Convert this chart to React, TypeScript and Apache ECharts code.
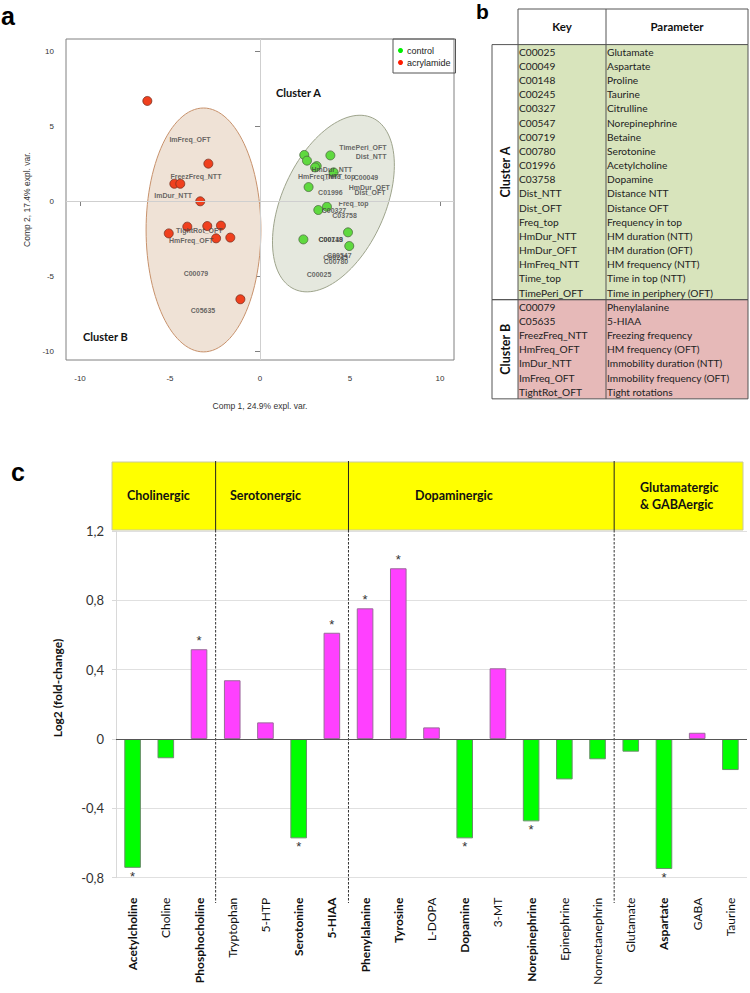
import React, { useEffect, useRef } from 'react';
import * as echarts from 'echarts';

// ---------- Panel a : PCA biplot ----------
const controlX = [2.46, 2.61, 3.91, 3.15, 3.06, 4.09, 2.70, 3.72, 3.24, 4.89, 2.41, 4.96];
const controlY = [3.07, 2.69, 3.04, 2.33, 2.24, 1.91, 0.93, -0.38, -0.60, -2.09, -2.56, -3.00];
const acrylX = [-6.26, -2.87, -4.76, -4.43, -3.32, -4.04, -2.93, -2.17, -5.07, -2.44, -1.65, -1.09];
const acrylY = [6.67, 2.49, 1.15, 1.15, -0.02, -1.71, -1.67, -1.64, -2.16, -2.49, -2.44, -6.55];

const loadingNames = [
  'ImFreq_OFT', 'FreezFreq_NTT', 'ImDur_NTT', 'TightRot_OFT', 'HmFreq_OFT', 'C00079', 'C05635',
  'TimePeri_OFT', 'Dist_NTT', 'HmDur_NTT', 'HmFreq_NTT', 'Time_top', 'C00049', 'HmDur_OFT', 'Dist_OFT',
  'C01996', 'Freq_top', 'C00327', 'C03758', 'C00148', 'C00719', 'C00547', 'C00245', 'C00780', 'C00025',
];
const loadingX = [
  -3.89, -3.56, -4.83, -3.37, -3.83, -3.56, -3.17,
  5.72, 6.17, 4.0, 3.33, 4.44, 5.89, 6.07, 6.11,
  3.91, 5.2, 4.11, 4.7, 3.93, 3.93, 4.41, 4.2, 4.22, 3.28,
];
const loadingY = [
  4.11, 1.62, 0.36, -1.96, -2.64, -4.82, -7.33,
  3.58, 2.96, 2.07, 1.62, 1.62, 1.56, 0.89, 0.56,
  0.56, -0.16, -0.64, -0.98, -2.56, -2.56, -3.62, -3.76, -4.04, -4.87,
];

// ellipses: [centerX, centerY, axis1X, axis1Y, axis2X, axis2Y] in data units
const ellipseParams = [
  [-3.14, -1.93, 0, 8.13, 3.19, 0],
  [4.08, -0.17, 2.17, 5.71, 2.6, -1.43],
];
const ellipseFill = ['#EFE2D6', '#E5E8DE'];
const ellipseStroke = ['#C8926C', '#9EA48C'];

const axisTicksA = [-10, -5, 0, 5, 10];

// ---------- Panel b : table ----------
const clusterAKeys = ['C00025', 'C00049', 'C00148', 'C00245', 'C00327', 'C00547', 'C00719', 'C00780', 'C01996', 'C03758',
  'Dist_NTT', 'Dist_OFT', 'Freq_top', 'HmDur_NTT', 'HmDur_OFT', 'HmFreq_NTT', 'Time_top', 'TimePeri_OFT'];
const clusterAParams = ['Glutamate', 'Aspartate', 'Proline', 'Taurine', 'Citrulline', 'Norepinephrine', 'Betaine', 'Serotonine',
  'Acetylcholine', 'Dopamine', 'Distance NTT', 'Distance OFT', 'Frequency in top', 'HM duration (NTT)', 'HM duration (OFT)',
  'HM frequency (NTT)', 'Time in top (NTT)', 'Time in periphery (OFT)'];
const clusterBKeys = ['C00079', 'C05635', 'FreezFreq_NTT', 'HmFreq_OFT', 'ImDur_NTT', 'ImFreq_OFT', 'TightRot_OFT'];
const clusterBParams = ['Phenylalanine', '5-HIAA', 'Freezing frequency', 'HM frequency (OFT)', 'Immobility duration (NTT)',
  'Immobility frequency (OFT)', 'Tight rotations'];

// ---------- Panel c : bar chart ----------
const categories = ['Acetylcholine', 'Choline', 'Phosphocholine', 'Tryptophan', '5-HTP', 'Serotonine', '5-HIAA',
  'Phenylalanine', 'Tyrosine', 'L-DOPA', 'Dopamine', '3-MT', 'Norepinephrine', 'Epinephrine', 'Normetanephrin',
  'Glutamate', 'Aspartate', 'GABA', 'Taurine'];
const foldChange = [-0.743, -0.111, 0.518, 0.339, 0.096, -0.573, 0.613, 0.754, 0.985, 0.067, -0.573, 0.408,
  -0.475, -0.233, -0.117, -0.073, -0.75, 0.036, -0.179];
const significant = [true, false, true, false, false, true, true, true, true, false, true, false, true, false, false,
  false, true, false, false];
const groupNames = ['Cholinergic', 'Serotonergic', 'Dopaminergic', 'Glutamatergic\n& GABAergic'];
const groupStart = [0, 3, 7, 15];

const FA = 'Liberation Sans, Arial, sans-serif';
const FC = 'Lato, sans-serif';

function buildOption(): any {
  return {
    animation: false,
    backgroundColor: '#ffffff',
    legend: {
      orient: 'vertical',
      left: 393,
      top: 39,
      padding: [7, 5, 6, 5],
      itemGap: 3,
      itemWidth: 5,
      itemHeight: 5,
      borderColor: '#555',
      borderWidth: 1,
      borderRadius: 0,
      icon: 'circle',
      textStyle: { fontSize: 9, fontFamily: FA, color: '#222', padding: [0, 0, 0, -1] },
      data: [
        { name: 'control', itemStyle: { color: '#00EE00', borderWidth: 0 } },
        { name: 'acrylamide', itemStyle: { color: '#FF1A00', borderWidth: 0 } },
      ],
    },
    grid: [
      { left: 66, top: 39, width: 388, height: 321, show: true, borderColor: '#808080', borderWidth: 1, backgroundColor: 'transparent', containLabel: false, outerBoundsMode: 'none' },
      { left: 116, top: 531, width: 631, height: 346.7, containLabel: false, outerBoundsMode: 'none' },
    ],
    xAxis: [
      {
        type: 'value', gridIndex: 0, min: -10.78, max: 10.78,
        name: 'Comp 1, 24.9% expl. var.', nameLocation: 'middle', nameGap: 41,
        nameTextStyle: { fontSize: 8.5, fontFamily: FA, color: '#333' },
        axisLine: { show: false },
        splitLine: { show: false },
        axisTick: { show: true, inside: false, length: 5, customValues: axisTicksA, lineStyle: { color: '#808080' } },
        axisLabel: { customValues: axisTicksA, fontSize: 8, fontFamily: FA, color: '#333', margin: 14 },
      },
      {
        type: 'category', gridIndex: 1,
        data: categories.map((c, i) => ({ value: c, textStyle: { fontWeight: significant[i] ? 'bold' : 'normal' } })),
        axisLine: { show: false, onZero: false },
        axisTick: { show: false },
        splitLine: { show: false },
        axisLabel: { rotate: 90, margin: 20, fontSize: 12, fontFamily: FC, color: '#111', interval: 0 },
      },
    ],
    yAxis: [
      {
        type: 'value', gridIndex: 0, min: -10.6, max: 10.8,
        name: 'Comp 2, 17.4% expl. var.', nameLocation: 'middle', nameGap: 31,
        nameTextStyle: { fontSize: 8.5, fontFamily: FA, color: '#333' },
        axisLine: { show: false },
        splitLine: { show: false },
        axisTick: { show: true, inside: false, length: 5, customValues: axisTicksA, lineStyle: { color: '#808080' } },
        axisLabel: { customValues: axisTicksA, fontSize: 8, fontFamily: FA, color: '#333', margin: 12 },
      },
      {
        type: 'value', gridIndex: 1, min: -0.8, max: 1.2, interval: 0.4,
        axisLine: { show: true, lineStyle: { color: '#d9d9d9' } },
        axisTick: { show: true, length: 4, lineStyle: { color: '#d9d9d9' } },
        splitLine: { show: true, lineStyle: { color: '#e0e0e0', width: 1 } },
        axisLabel: {
          fontSize: 13, fontFamily: FC, color: '#333', margin: 12,
          formatter: (v: number) => String(Math.round(v * 10) / 10).replace('.', ','),
        },
      },
    ],
    series: [
      {
        type: 'custom', name: 'ellipses', xAxisIndex: 0, yAxisIndex: 0, z: 1, clip: true, silent: true,
        data: ellipseParams,
        renderItem: (params: any, api: any) => {
          const cx = api.value(0), cy = api.value(1), ux = api.value(2), uy = api.value(3), vx = api.value(4), vy = api.value(5);
          const pts: number[][] = [];
          const n = 120;
          for (let k = 0; k <= n; k++) {
            const t = (k / n) * Math.PI * 2;
            pts.push(api.coord([cx + ux * Math.cos(t) + vx * Math.sin(t), cy + uy * Math.cos(t) + vy * Math.sin(t)]));
          }
          return {
            type: 'polygon',
            shape: { points: pts },
            style: { fill: ellipseFill[params.dataIndex], stroke: ellipseStroke[params.dataIndex], lineWidth: 1 },
          };
        },
      },
      {
        type: 'scatter', name: 'zerolines', xAxisIndex: 0, yAxisIndex: 0, z: 2, data: [], silent: true,
        markLine: {
          silent: true, symbol: 'none', label: { show: false }, animation: false,
          lineStyle: { color: '#cfcfcf', type: 'solid', width: 1 },
          data: [{ xAxis: 0 }, { yAxis: 0 }],
        },
      },
      {
        type: 'scatter', name: 'control', xAxisIndex: 0, yAxisIndex: 0, z: 3, symbolSize: 9,
        itemStyle: { color: '#5FD93F', borderColor: '#4d6b40', borderWidth: 0.8, opacity: 1 },
        data: controlX.map((x, i) => [x, controlY[i]]),
      },
      {
        type: 'scatter', name: 'acrylamide', xAxisIndex: 0, yAxisIndex: 0, z: 3, symbolSize: 9,
        itemStyle: { color: '#F0401E', borderColor: '#7a3020', borderWidth: 0.8, opacity: 1 },
        data: acrylX.map((x, i) => [x, acrylY[i]]),
      },
      {
        type: 'scatter', name: 'loadings', xAxisIndex: 0, yAxisIndex: 0, z: 4, symbolSize: 0, silent: true,
        data: loadingNames.map((n, i) => ({ name: n, value: [loadingX[i], loadingY[i]] })),
        label: {
          show: true, position: 'inside', formatter: (p: any) => p.name,
          fontSize: 7, fontWeight: 'bold', fontFamily: FA, color: '#444',
        },
      },
      {
        type: 'bar', name: 'foldchange', xAxisIndex: 1, yAxisIndex: 1, barWidth: '50%', z: 3,
        data: foldChange.map((v, i) => ({
          value: v,
          itemStyle: {
            color: v >= 0 ? '#FF40FF' : '#00FF00',
            borderColor: v >= 0 ? '#9a6a9a' : '#6a8f6a',
            borderWidth: 1,
          },
          label: {
            show: significant[i], position: v >= 0 ? 'top' : 'bottom', formatter: '*', distance: 2,
            fontSize: 13, fontFamily: FA, color: '#333',
          },
        })),
        markLine: {
          silent: true, symbol: 'none', label: { show: false }, animation: false,
          lineStyle: { color: '#555', type: 'solid', width: 1 },
          data: [{ yAxis: 0 }],
        },
      },
    ],
  };
}

function buildGraphic(boundaries: number[]): any[] {
  const g: any[] = [];
  // panel letters
  g.push({ type: 'text', x: 1, y: 3, style: { text: 'a', fontSize: 25, fontWeight: 'bold', fontFamily: FA, fill: '#000' } });
  g.push({ type: 'text', x: 476, y: 1, style: { text: 'b', fontSize: 21, fontWeight: 'bold', fontFamily: FA, fill: '#000' } });
  g.push({ type: 'text', x: 11, y: 459, style: { text: 'c', fontSize: 25, fontWeight: 'bold', fontFamily: FA, fill: '#000' } });

  // cluster labels in panel a
  g.push({ type: 'text', x: 276, y: 92, style: { text: 'Cluster A', fontSize: 11, fontWeight: 'bold', fontFamily: FC, fill: '#111', verticalAlign: 'middle' } });
  g.push({ type: 'text', x: 83, y: 336, style: { text: 'Cluster B', fontSize: 11, fontWeight: 'bold', fontFamily: FC, fill: '#111', verticalAlign: 'middle' } });

  // ---------- table ----------
  const tl = 492, kx = 518, px = 606, tr = 748;
  const headTop = 9, rowTop = 44.6, rowH = 14.17;
  const nA = clusterAKeys.length, nB = clusterBKeys.length;
  const aBottom = rowTop + nA * rowH;
  const bBottom = aBottom + nB * rowH;
  g.push({ type: 'rect', shape: { x: kx, y: headTop, width: tr - kx, height: rowTop - headTop }, style: { fill: '#fff', stroke: '#555', lineWidth: 1 } });
  g.push({ type: 'rect', shape: { x: kx, y: rowTop, width: tr - kx, height: aBottom - rowTop }, style: { fill: '#D8E4BC', stroke: 'none' } });
  g.push({ type: 'rect', shape: { x: kx, y: aBottom, width: tr - kx, height: bBottom - aBottom }, style: { fill: '#E6B9B8', stroke: 'none' } });
  g.push({ type: 'rect', shape: { x: tl, y: rowTop, width: tr - tl, height: aBottom - rowTop }, style: { fill: 'none', stroke: '#555', lineWidth: 1 } });
  g.push({ type: 'rect', shape: { x: tl, y: aBottom, width: tr - tl, height: bBottom - aBottom }, style: { fill: 'none', stroke: '#555', lineWidth: 1 } });
  g.push({ type: 'line', shape: { x1: kx, y1: rowTop, x2: kx, y2: bBottom }, style: { stroke: '#555', lineWidth: 1 } });
  g.push({ type: 'line', shape: { x1: px, y1: headTop, x2: px, y2: bBottom }, style: { stroke: '#555', lineWidth: 1 } });
  g.push({ type: 'text', x: (kx + px) / 2, y: (headTop + rowTop) / 2, style: { text: 'Key', fontSize: 11.5, fontWeight: 'bold', fontFamily: FC, fill: '#111', align: 'center', verticalAlign: 'middle' } });
  g.push({ type: 'text', x: (px + tr) / 2, y: (headTop + rowTop) / 2, style: { text: 'Parameter', fontSize: 11.5, fontWeight: 'bold', fontFamily: FC, fill: '#111', align: 'center', verticalAlign: 'middle' } });
  const allKeys = clusterAKeys.concat(clusterBKeys);
  const allParams = clusterAParams.concat(clusterBParams);
  allKeys.forEach((k, i) => {
    const y = rowTop + rowH * (i + 0.5);
    g.push({ type: 'text', x: kx + 1, y, style: { text: k, fontSize: 10.2, fontFamily: FC, fill: '#222', verticalAlign: 'middle' } });
    g.push({ type: 'text', x: px + 1, y, style: { text: allParams[i], fontSize: 10.2, fontFamily: FC, fill: '#222', verticalAlign: 'middle' } });
  });
  g.push({ type: 'text', x: (tl + kx) / 2, y: (rowTop + aBottom) / 2, rotation: Math.PI / 2, style: { text: 'Cluster A', fontSize: 12.5, fontWeight: 'bold', fontFamily: FC, fill: '#111', align: 'center', verticalAlign: 'middle' } });
  g.push({ type: 'text', x: (tl + kx) / 2, y: (aBottom + bBottom) / 2, rotation: Math.PI / 2, style: { text: 'Cluster B', fontSize: 12.5, fontWeight: 'bold', fontFamily: FC, fill: '#111', align: 'center', verticalAlign: 'middle' } });

  // ---------- panel c header ----------
  const hTop = 462, hBottom = 530, hLeft = 112, hRight = 743;
  g.push({ type: 'rect', z: -1, shape: { x: hLeft, y: hTop, width: hRight - hLeft, height: hBottom - hTop }, style: { fill: '#FFFF00', stroke: '#c8c8a0', lineWidth: 1 } });
  boundaries.forEach((bx) => {
    g.push({ type: 'line', shape: { x1: bx, y1: hTop - 1, x2: bx, y2: hBottom }, style: { stroke: '#222', lineWidth: 1 } });
    g.push({ type: 'line', shape: { x1: bx, y1: hBottom, x2: bx, y2: 903 }, style: { stroke: '#333', lineWidth: 1, lineDash: [2.5, 1.5] } });
  });
  const labelX = [127, 230, 415, 640];
  groupNames.forEach((name, i) => {
    g.push({ type: 'text', x: labelX[i], y: 495.5, style: { text: name, fontSize: 12.5, fontWeight: 'bold', fontFamily: FC, fill: '#111', verticalAlign: 'middle', lineHeight: 17 } });
  });
  // y axis title
  g.push({ type: 'text', x: 57, y: 688, rotation: Math.PI / 2, style: { text: 'Log2 (fold-change)', fontSize: 12, fontWeight: 'bold', fontFamily: FC, fill: '#111', align: 'center', verticalAlign: 'middle' } });
  return g;
}

export default function App() {
  const ref = useRef<HTMLDivElement>(null);
  useEffect(() => {
    if (!ref.current) return;
    const chart = echarts.init(ref.current, null, { renderer: 'svg' });
    chart.setOption(buildOption());
    const centers = categories.map((c) => chart.convertToPixel({ xAxisIndex: 1 }, c) as unknown as number);
    const boundaries = groupStart.slice(1).map((s) => (centers[s - 1] + centers[s]) / 2);
    chart.setOption({ graphic: buildGraphic(boundaries) });
    return () => chart.dispose();
  }, []);
  return <div ref={ref} style={{ position: 'absolute', left: 0, top: 0, width: 750, height: 993 }} />;
}
